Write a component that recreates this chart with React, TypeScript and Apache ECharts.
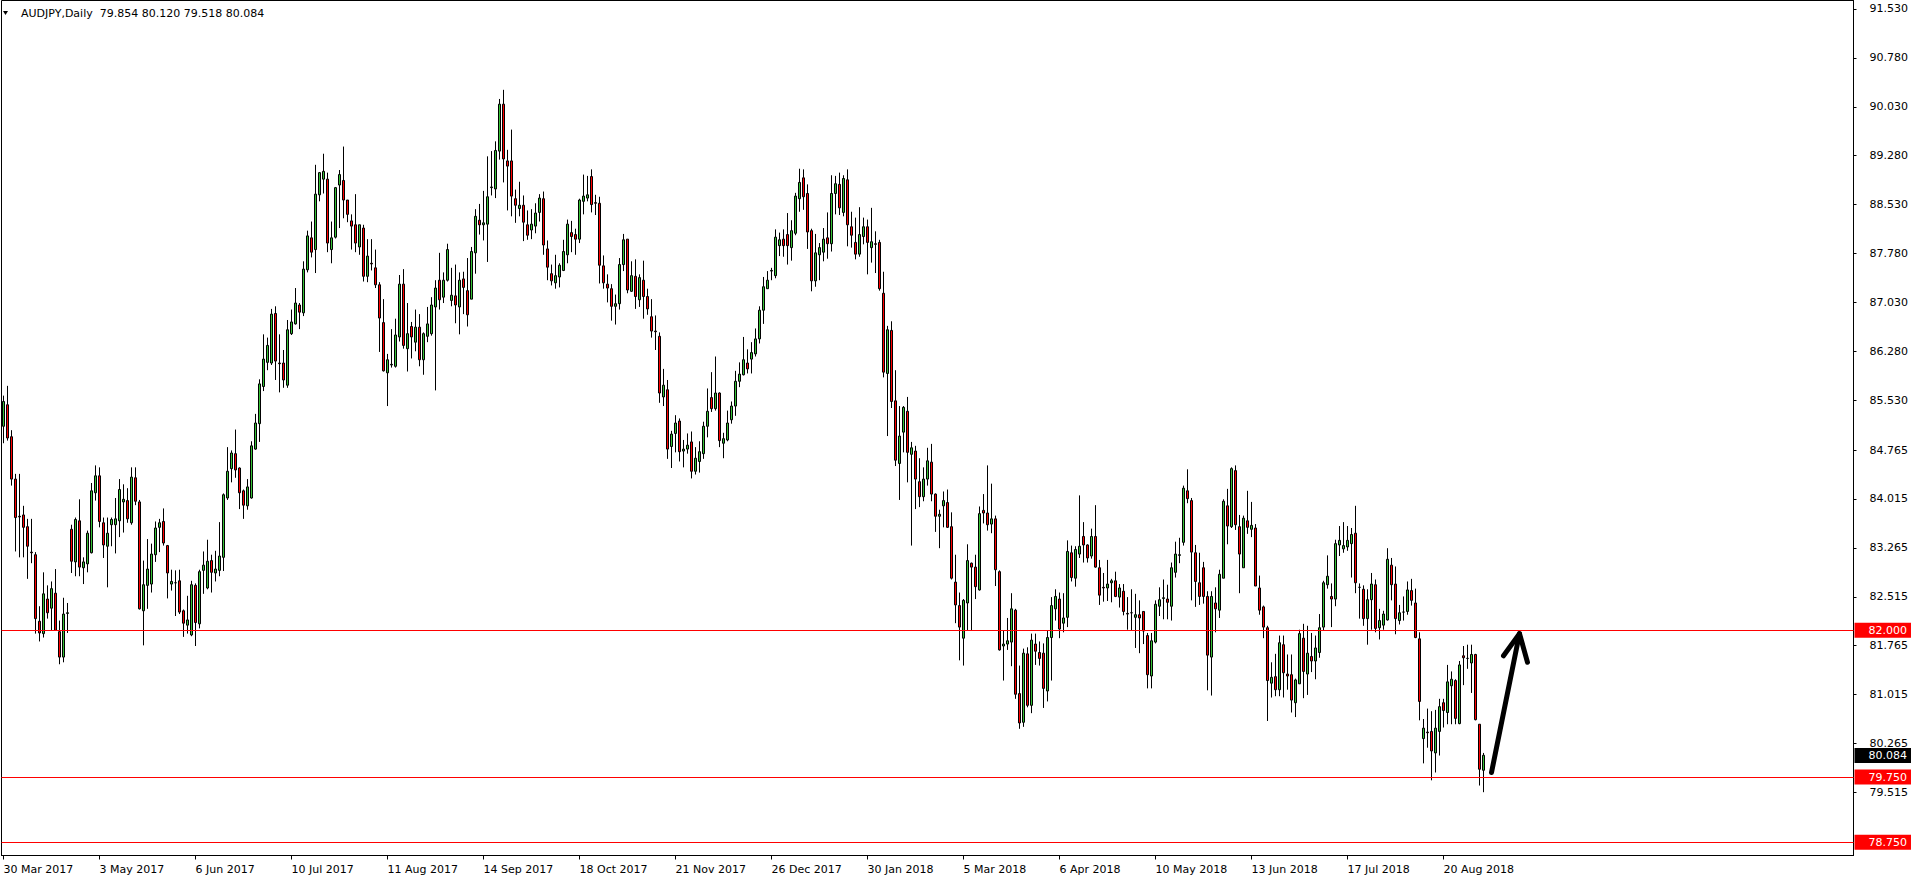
import { useEffect, useRef } from "react";
import * as echarts from "echarts";

const FONT = "'DejaVu Sans', Verdana, sans-serif";
const UP_COLOR = "#36C236";
const DOWN_COLOR = "#FF0000";
const LEVEL_COLOR = "#FF0000";

const TITLE = "AUDJPY,Daily  79.854 80.120 79.518 80.084";
const START_DATE = "2017-03-30";
const HOLIDAYS = ["2017-12-25", "2018-01-01"];
const EMPTY_SLOTS = 92; // right-hand shift space after the last bar

const xTickLabels = [
  "30 Mar 2017", "3 May 2017", "6 Jun 2017", "10 Jul 2017", "11 Aug 2017", "14 Sep 2017",
  "18 Oct 2017", "21 Nov 2017", "26 Dec 2017", "30 Jan 2018", "5 Mar 2018", "6 Apr 2018",
  "10 May 2018", "13 Jun 2018", "17 Jul 2018", "20 Aug 2018",
];
const X_LABEL_EVERY = 24;

const yTickValues = [
  91.53, 90.78, 90.03, 89.28, 88.53, 87.78, 87.03, 86.28, 85.53, 84.765, 84.015,
  83.265, 82.515, 81.765, 81.015, 80.265, 79.515,
];
const Y_MIN = 78.547;
const Y_MAX = 91.66;

const levelLines = [82.0, 79.75, 78.75];
const lastPrice = 80.084;

// arrow annotation, [bar index, price]
const arrowShaft = [[372, 79.82], [379, 81.95]];
const arrowHead = [[375, 81.61], [379, 81.95], [381, 81.51]];

// [open, high, low, close]
const ohlcSpring2017 = [
  [85.13, 85.60, 84.87, 85.51], [85.46, 85.75, 84.91, 84.95], [84.97, 85.07, 84.22, 84.32], [84.32, 84.40, 83.21, 83.73],
  [83.75, 84.40, 83.12, 83.74], [83.77, 83.91, 83.12, 83.58], [83.59, 83.71, 82.79, 83.29], [83.20, 83.71, 83.03, 83.19],
  [83.16, 83.20, 81.95, 82.18], [82.14, 82.37, 81.83, 81.96], [81.95, 82.89, 81.89, 82.56], [82.48, 82.69, 82.18, 82.27],
  [82.34, 82.75, 82.00, 82.64], [82.57, 82.94, 81.99, 82.00], [81.98, 82.15, 81.48, 81.59], [81.59, 82.50, 81.51, 82.25],
  [82.26, 82.42, 81.96, 82.27], [83.55, 83.62, 82.88, 83.06], [83.05, 83.73, 82.83, 83.70], [83.68, 84.01, 82.83, 82.97],
  [82.96, 83.12, 82.71, 83.05], [83.02, 83.53, 82.89, 83.49], [83.19, 84.26, 83.18, 84.14], [84.11, 84.53, 83.99, 84.37],
  [84.37, 84.50, 83.58, 83.67], [83.65, 83.73, 83.11, 83.31], [83.29, 83.73, 82.66, 83.49], [83.62, 83.73, 83.29, 83.70],
  [83.62, 84.03, 83.18, 83.71], [83.68, 84.32, 83.43, 84.16], [83.97, 84.24, 83.50, 84.01], [83.99, 84.18, 83.65, 83.71],
  [83.65, 84.50, 83.62, 84.35], [84.34, 84.50, 83.92, 83.98], [83.97, 84.00, 82.32, 82.33], [82.30, 83.07, 81.77, 82.70],
  [82.69, 83.40, 82.33, 82.94], [82.71, 83.33, 82.58, 83.17], [83.16, 83.67, 83.05, 83.57], [83.58, 83.71, 83.20, 83.65],
  [83.67, 83.87, 83.30, 83.34], [83.30, 83.31, 82.49, 82.88], [82.71, 82.93, 82.61, 82.75], [82.73, 82.92, 82.22, 82.73],
  [82.76, 82.93, 82.25, 82.28], [82.30, 82.32, 81.90, 82.11], [82.08, 82.53, 81.95, 82.16], [81.93, 82.76, 81.91, 82.70],
  [82.69, 82.72, 81.76, 82.12], [82.10, 82.93, 82.03, 82.90], [82.92, 83.21, 82.56, 83.00], [82.65, 83.39, 82.63, 83.06],
  [83.07, 83.16, 82.58, 82.89], [82.88, 83.22, 82.75, 82.94], [82.92, 83.66, 82.83, 83.14], [83.12, 84.10, 82.91, 84.08],
  [84.03, 84.81, 84.00, 84.44], [84.48, 84.76, 84.27, 84.72], [84.71, 85.08, 84.34, 84.46], [84.49, 84.50, 83.86, 84.11],
  [84.14, 84.16, 83.71, 83.92], [83.91, 84.32, 83.85, 84.20], [84.03, 84.90, 84.02, 84.83], [84.78, 85.32, 84.77, 85.18],
  [85.17, 85.85, 84.89, 85.78], [85.74, 86.54, 85.67, 86.16], [86.11, 86.49, 85.99, 86.37], [86.10, 86.93, 86.07, 86.85],
  [86.86, 86.97, 85.84, 86.13], [86.10, 86.54, 85.65, 86.09], [86.10, 86.30, 85.72, 85.84], [85.76, 86.76, 85.72, 86.61],
  [86.55, 86.92, 86.53, 86.73], [86.70, 87.25, 86.69, 87.02], [86.99, 87.02, 86.62, 86.88], [86.87, 87.66, 86.82, 87.54],
  [87.53, 88.13, 87.49, 88.05], [88.02, 88.27, 87.72, 87.80], [87.84, 89.14, 87.48, 88.69], [88.68, 89.03, 88.58, 89.02],
  [88.92, 89.31, 88.70, 89.04], [88.92, 89.02, 87.80, 87.94], [87.84, 88.27, 87.63, 88.02], [88.03, 88.80, 88.01, 88.79],
  [88.83, 89.06, 88.17, 88.99], [88.90, 89.42, 88.32, 88.60], [88.60, 88.60, 88.26, 88.38], [88.28, 88.38, 87.84, 88.20],
  [88.22, 88.69, 87.80, 87.94], [87.88, 88.22, 87.76, 88.22], [88.17, 88.22, 87.35, 87.43], [87.43, 88.00, 87.34, 87.74],
  [87.63, 88.00, 87.52, 87.62], [87.56, 87.84, 87.25, 87.30], [87.30, 87.34, 86.27, 86.79], [86.72, 87.08, 85.97, 85.98],
];

const ohlcAutumn2017 = [
  [85.95, 86.24, 85.44, 86.15], [86.07, 86.62, 86.03, 86.08], [86.05, 86.78, 86.03, 86.53], [86.50, 87.45, 86.43, 87.31],
  [87.31, 87.54, 86.32, 86.37], [86.32, 87.02, 85.97, 86.55], [86.66, 86.73, 86.17, 86.50], [86.42, 86.92, 86.28, 86.65],
  [86.65, 86.85, 86.05, 86.15], [86.15, 86.57, 85.92, 86.55], [86.51, 86.96, 86.42, 86.70], [86.55, 87.11, 86.52, 86.99],
  [86.96, 87.37, 85.68, 87.25], [87.37, 87.79, 86.92, 87.07], [87.11, 87.49, 87.02, 87.37], [87.37, 87.93, 87.35, 87.84],
  [87.06, 87.56, 86.97, 87.14], [87.13, 87.61, 86.71, 86.99], [86.96, 87.49, 86.54, 87.37], [87.39, 87.50, 86.85, 87.26],
  [87.21, 87.71, 86.66, 86.84], [87.08, 87.88, 87.08, 87.81], [87.79, 88.46, 87.47, 88.35], [88.29, 88.54, 88.07, 88.22],
  [88.22, 88.74, 87.98, 88.25], [88.23, 89.27, 87.65, 88.65], [88.79, 89.35, 88.67, 88.80], [88.77, 89.50, 88.63, 89.36],
  [89.35, 90.15, 89.22, 90.07], [90.07, 90.29, 88.87, 89.23], [89.20, 89.37, 88.44, 89.12], [89.20, 89.68, 88.35, 88.66],
  [88.62, 88.76, 88.25, 88.52], [88.47, 88.88, 88.35, 88.52], [88.52, 88.67, 87.97, 88.26], [88.22, 88.44, 87.99, 88.06],
  [88.14, 88.46, 88.00, 88.23], [88.20, 88.55, 88.09, 88.40], [88.41, 88.69, 88.27, 88.63], [88.62, 88.73, 87.76, 87.91],
  [87.85, 87.98, 87.37, 87.57], [87.47, 87.61, 87.29, 87.36], [87.33, 87.76, 87.24, 87.44], [87.42, 87.63, 87.26, 87.60],
  [87.52, 87.99, 87.51, 87.81], [87.76, 88.30, 87.63, 88.23], [88.10, 88.28, 87.80, 88.04], [88.07, 88.16, 87.76, 88.00],
  [88.00, 88.62, 87.94, 88.60], [88.58, 88.99, 88.38, 88.66], [88.63, 88.97, 88.58, 88.68], [88.96, 89.07, 88.41, 88.53],
  [88.56, 88.68, 88.37, 88.55], [88.55, 88.65, 87.32, 87.60], [87.59, 87.75, 87.24, 87.33], [87.31, 87.46, 87.03, 87.25],
  [87.24, 87.31, 86.75, 86.97], [86.97, 87.15, 86.69, 87.01], [87.01, 87.71, 86.92, 87.61], [87.61, 88.08, 87.51, 87.99],
  [88.00, 88.00, 87.17, 87.22], [87.20, 87.66, 87.19, 87.44], [87.43, 87.69, 86.93, 87.12], [87.07, 87.46, 86.96, 87.41],
  [87.37, 87.67, 86.78, 87.12], [87.12, 87.24, 86.84, 86.93], [86.81, 87.08, 86.49, 86.59], [86.59, 86.83, 86.30, 86.58],
  [86.51, 86.57, 85.49, 85.64], [85.58, 86.01, 85.44, 85.76], [85.69, 85.84, 84.63, 84.78], [84.82, 85.06, 84.49, 85.01],
  [85.02, 85.30, 84.73, 85.18], [85.21, 85.25, 84.59, 84.74], [84.75, 84.92, 84.50, 84.78], [84.78, 85.02, 84.71, 84.84],
  [84.89, 85.05, 84.33, 84.44], [84.44, 84.81, 84.39, 84.64], [84.59, 84.90, 84.42, 84.74], [84.71, 85.20, 84.63, 85.13],
  [85.13, 85.71, 84.96, 85.36], [85.57, 85.96, 85.35, 85.40], [85.40, 86.20, 85.37, 85.64], [85.64, 85.65, 84.81, 84.91],
  [84.87, 85.03, 84.64, 84.94], [84.92, 85.37, 84.90, 85.18], [85.23, 85.51, 85.17, 85.44], [85.44, 85.98, 85.29, 85.82],
  [85.82, 86.11, 85.73, 85.93], [85.92, 86.50, 85.91, 86.15], [86.10, 86.31, 85.94, 86.01], [86.16, 86.42, 85.94, 86.26],
  [86.24, 86.63, 86.20, 86.47], [86.47, 86.97, 86.40, 86.91], [86.91, 87.42, 86.70, 87.27],
];

const ohlcWinter2018 = [
  [87.24, 87.51, 87.24, 87.37], [87.51, 87.56, 87.37, 87.52], [87.44, 88.15, 87.40, 88.03], [87.90, 88.10, 87.74, 87.99],
  [88.00, 88.15, 87.73, 87.90], [88.07, 88.40, 87.61, 87.90], [87.87, 88.29, 87.67, 88.13], [88.09, 88.71, 88.06, 88.66],
  [88.62, 89.08, 88.42, 88.87], [88.94, 89.07, 88.45, 88.65], [88.70, 88.84, 87.85, 88.11], [88.13, 88.16, 87.20, 87.36],
  [87.36, 88.08, 87.27, 87.79], [87.76, 87.94, 87.37, 87.87], [87.80, 88.17, 87.66, 88.00], [88.02, 88.41, 87.70, 87.93],
  [87.93, 88.98, 87.81, 88.70], [88.70, 88.97, 88.38, 88.85], [88.84, 89.02, 88.37, 88.48], [88.41, 88.98, 88.35, 88.93],
  [88.91, 89.07, 87.89, 88.22], [88.19, 88.42, 87.87, 88.06], [87.95, 88.33, 87.69, 87.77], [87.77, 88.49, 87.73, 88.07],
  [88.04, 88.33, 87.92, 88.19], [88.19, 88.30, 87.46, 87.95], [87.87, 88.48, 87.64, 87.96], [87.93, 88.12, 87.48, 87.92],
  [87.95, 87.99, 87.21, 87.24], [87.17, 87.50, 85.88, 85.96], [85.94, 86.67, 84.98, 86.61], [86.60, 86.74, 85.41, 85.51],
  [85.52, 85.99, 84.52, 84.61], [84.56, 85.44, 84.00, 84.98], [85.04, 85.44, 84.73, 85.42], [85.36, 85.58, 84.27, 84.73],
  [84.70, 84.89, 83.30, 84.80], [84.75, 84.83, 83.86, 84.32], [84.28, 84.64, 83.89, 84.05], [84.05, 84.50, 83.98, 84.32],
  [84.32, 84.80, 84.22, 84.60], [84.58, 84.86, 83.98, 84.09], [84.09, 84.10, 83.51, 83.75], [83.75, 83.85, 83.26, 83.78],
  [83.91, 84.13, 83.58, 83.99], [83.96, 84.16, 83.57, 83.58], [83.59, 83.81, 82.78, 82.80], [82.74, 83.16, 82.11, 82.39],
  [82.38, 82.58, 81.54, 82.05], [81.88, 82.48, 81.46, 82.46], [82.42, 83.32, 82.00, 83.07], [83.03, 83.04, 82.00, 82.97],
  [82.97, 83.16, 82.48, 82.67], [82.62, 83.90, 82.61, 83.79], [83.84, 84.09, 83.64, 83.80], [83.80, 84.53, 83.53, 83.62],
  [83.63, 84.25, 83.49, 83.71], [83.71, 83.76, 82.68, 82.93], [82.90, 82.92, 81.69, 81.70], [81.76, 81.99, 81.23, 81.79],
  [81.79, 82.19, 81.70, 81.84], [81.82, 82.57, 81.45, 82.33], [82.31, 82.33, 80.95, 81.02], [81.03, 81.46, 80.49, 80.58],
  [80.59, 81.72, 80.52, 81.65], [81.64, 81.74, 80.82, 80.85], [80.85, 81.95, 80.73, 81.85], [81.79, 81.95, 81.47, 81.68],
  [81.66, 81.83, 81.46, 81.57], [81.65, 81.80, 80.81, 81.11], [81.07, 81.99, 80.91, 81.89], [81.89, 82.51, 81.23, 82.38],
  [82.33, 82.63, 82.15, 82.52], [82.48, 82.58, 81.88, 82.02], [82.11, 82.57, 81.97, 82.19], [82.20, 83.38, 82.05, 83.21],
  [83.19, 83.30, 82.75, 82.81], [82.80, 83.29, 82.67, 83.24], [83.17, 84.07, 83.11, 83.29], [83.44, 83.66, 83.04, 83.31],
  [83.31, 83.32, 83.04, 83.11], [83.14, 83.56, 83.10, 83.44], [83.44, 83.92, 82.96, 82.97], [82.96, 83.08, 82.39, 82.54],
  [82.66, 82.88, 82.44, 82.65], [82.65, 83.08, 82.45, 82.71], [82.73, 82.79, 82.43, 82.76], [82.76, 82.90, 82.51, 82.52],
  [82.51, 82.71, 82.35, 82.65], [82.60, 82.71, 82.23, 82.29], [82.26, 82.51, 82.01, 82.25], [82.27, 82.63, 81.99, 82.27],
  [82.20, 82.56, 81.73, 82.24], [82.24, 82.46, 81.65, 82.19], [82.29, 82.29, 81.79, 81.99],
];

const ohlcSummer2018 = [
  [81.92, 81.96, 81.11, 81.32], [81.30, 81.96, 81.11, 81.84], [81.82, 82.46, 81.80, 82.40], [82.37, 82.66, 82.22, 82.47],
  [82.49, 82.78, 82.17, 82.50], [82.48, 82.70, 82.17, 82.43], [82.37, 83.04, 82.15, 82.96], [82.89, 83.36, 82.81, 83.17],
  [83.15, 83.42, 83.03, 83.16], [83.35, 84.22, 83.30, 84.18], [84.14, 84.47, 83.95, 84.02], [83.99, 84.03, 82.46, 83.20],
  [83.19, 83.31, 82.36, 82.75], [82.73, 83.19, 82.39, 82.52], [82.96, 83.05, 82.41, 82.52], [82.52, 82.60, 81.08, 81.62],
  [81.59, 82.60, 81.00, 82.52], [82.42, 82.66, 81.97, 82.33], [82.31, 82.93, 82.19, 82.86], [82.80, 84.01, 82.80, 83.98],
  [83.91, 84.17, 83.32, 83.60], [83.59, 84.50, 83.57, 84.48], [84.45, 84.53, 83.54, 83.62], [83.59, 83.77, 82.57, 83.17],
  [82.96, 83.76, 82.96, 83.72], [83.68, 84.14, 83.48, 83.58], [83.55, 83.97, 83.43, 83.61], [83.57, 83.63, 82.68, 82.68],
  [82.65, 82.84, 82.24, 82.31], [82.36, 82.38, 81.88, 82.05], [82.04, 82.07, 80.61, 81.23], [81.19, 81.51, 80.97, 81.28],
  [81.29, 81.64, 80.99, 81.09], [81.09, 81.92, 80.99, 81.81], [81.78, 81.92, 80.97, 81.35], [81.33, 81.63, 81.09, 81.30],
  [81.32, 81.63, 80.74, 80.93], [80.89, 81.26, 80.67, 81.24], [81.18, 82.01, 81.18, 81.95], [81.88, 82.10, 80.96, 81.37],
  [81.33, 82.07, 81.01, 81.65], [81.60, 81.96, 81.36, 81.53], [81.53, 81.92, 81.25, 81.73], [81.66, 82.25, 81.58, 82.04],
  [82.05, 82.76, 82.00, 82.73], [82.70, 83.15, 82.64, 82.83], [82.52, 82.72, 82.05, 82.48], [82.48, 83.39, 82.37, 83.33],
  [83.31, 83.60, 83.14, 83.38], [83.25, 83.66, 83.19, 83.30], [83.28, 83.60, 83.22, 83.38], [83.33, 83.57, 82.81, 83.47],
  [83.49, 83.91, 82.57, 82.73], [82.66, 82.72, 82.18, 82.66], [82.63, 82.69, 82.07, 82.18], [82.18, 82.63, 81.78, 82.47],
  [82.47, 82.88, 82.01, 82.71], [82.70, 82.78, 81.97, 82.03], [82.04, 82.33, 81.86, 82.15], [82.08, 82.30, 82.01, 82.25],
  [82.16, 83.26, 82.15, 83.09], [83.00, 83.11, 82.46, 82.70], [82.71, 82.98, 81.94, 82.18], [82.15, 82.39, 82.09, 82.27],
  [82.28, 82.52, 82.15, 82.28], [82.29, 82.75, 82.24, 82.62], [82.61, 82.79, 82.38, 82.46], [82.42, 82.64, 81.88, 81.89],
  [81.87, 81.97, 80.62, 80.91], [80.34, 80.64, 79.96, 80.50], [80.44, 80.80, 80.20, 80.43], [80.45, 80.76, 79.70, 80.15],
  [80.12, 80.78, 79.82, 80.50], [80.45, 80.95, 80.08, 80.83], [80.89, 80.95, 80.51, 80.77], [80.74, 81.47, 80.56, 81.21],
  [81.15, 81.37, 80.56, 81.25], [81.23, 81.25, 80.56, 80.65], [80.57, 81.53, 80.56, 81.47], [81.61, 81.76, 81.16, 81.58],
  [81.57, 81.78, 81.41, 81.57], [81.50, 81.78, 81.04, 81.63], [81.63, 81.64, 80.62, 80.63], [80.56, 80.56, 79.62, 79.87],
  [79.854, 80.12, 79.518, 80.084],
];

const ohlc = [...ohlcSpring2017, ...ohlcAutumn2017, ...ohlcWinter2018, ...ohlcSummer2018];

function tradingDays(count: number): string[] {
  const out: string[] = [];
  let t = Date.parse(START_DATE + "T00:00:00Z");
  while (out.length < count) {
    const d = new Date(t);
    const iso = d.toISOString().slice(0, 10);
    const dow = d.getUTCDay();
    if (dow !== 0 && dow !== 6 && !HOLIDAYS.includes(iso)) out.push(iso);
    t += 86400000;
  }
  return out;
}

export default function App() {
  const ref = useRef<HTMLDivElement>(null);

  useEffect(() => {
    if (!ref.current) return;
    const chart = echarts.init(ref.current, null, { renderer: "svg" });
    const categories = [...tradingDays(ohlc.length), ...new Array(EMPTY_SLOTS).fill("")];
    const candleData = ohlc.map(([o, h, l, c]) => [o, c, l, h]);
    const showX = (i: number) => i % X_LABEL_EVERY === 0 && i / X_LABEL_EVERY < xTickLabels.length;

    const boxLabel = (bg: string, value: number) => ({
      show: true,
      position: "end",
      distance: 1,
      formatter: () => value.toFixed(3),
      color: "#fff",
      backgroundColor: bg,
      padding: [2, 4, 1, 14],
      fontFamily: FONT,
      fontSize: 11,
      lineHeight: 12,
    });

    const option: any = {
      animation: false,
      backgroundColor: "#fff",
      grid: {
        left: 1.5,
        right: 62.5,
        top: 0.5,
        bottom: 28.5,
        show: true,
        borderColor: "#000",
        borderWidth: 1,
        backgroundColor: "#fff",
      },
      xAxis: {
        type: "category",
        data: categories,
        boundaryGap: true,
        axisLine: { show: true, lineStyle: { color: "#000", width: 1 } },
        axisTick: { show: true, alignWithLabel: true, interval: showX, length: 4, lineStyle: { color: "#000" } },
        axisLabel: {
          interval: showX,
          formatter: (_v: string, i: number) => xTickLabels[i / X_LABEL_EVERY] ?? "",
          align: "left",
          color: "#000",
          fontFamily: FONT,
          fontSize: 11,
          margin: 8,
        },
        splitLine: { show: false },
      },
      yAxis: {
        type: "value",
        position: "right",
        min: Y_MIN,
        max: Y_MAX,
        axisLine: { show: true, lineStyle: { color: "#000", width: 1 } },
        axisTick: { show: true, length: 3, customValues: yTickValues, lineStyle: { color: "#000" } },
        axisLabel: {
          customValues: yTickValues,
          formatter: (v: number) => v.toFixed(3),
          color: "#000",
          fontFamily: FONT,
          fontSize: 11,
          margin: 16,
        },
        splitLine: { show: false },
      },
      graphic: [
        { type: "polygon", z: 100, shape: { points: [[3, 11], [8, 11], [5.5, 15]] }, style: { fill: "#000" } },
        {
          type: "text",
          z: 100,
          x: 21,
          y: 8,
          style: { text: TITLE, fill: "#000", font: `11px ${FONT}`, textAlign: "left", textVerticalAlign: "top" },
        },
      ],
      series: [
        {
          type: "candlestick",
          data: candleData,
          barWidth: 3,
          silent: true,
          itemStyle: {
            color: UP_COLOR,
            color0: DOWN_COLOR,
            borderColor: "#000",
            borderColor0: "#000",
            borderWidth: 1,
          },
          markLine: {
            silent: true,
            symbol: ["none", "none"],
            animation: false,
            data: [
              ...levelLines.map((v) => ({
                yAxis: v,
                lineStyle: { color: LEVEL_COLOR, width: 1, type: "solid" },
                label: boxLabel(LEVEL_COLOR, v),
              })),
              {
                yAxis: lastPrice,
                lineStyle: { color: "rgba(0,0,0,0)", width: 0, type: "solid" },
                label: boxLabel("#000", lastPrice),
              },
            ],
          },
        },
        {
          type: "line",
          data: arrowShaft,
          symbol: "none",
          silent: true,
          z: 10,
          lineStyle: { color: "#000", width: 5, cap: "round", join: "round" },
        },
        {
          type: "line",
          data: arrowHead,
          symbol: "none",
          silent: true,
          z: 10,
          lineStyle: { color: "#000", width: 5, cap: "round", join: "round" },
        },
      ],
    };

    chart.setOption(option);
    return () => chart.dispose();
  }, []);

  return (
    <div
      ref={ref}
      style={{ position: "fixed", left: 0, top: 0, width: 1916, height: 884, background: "#fff" }}
    />
  );
}
